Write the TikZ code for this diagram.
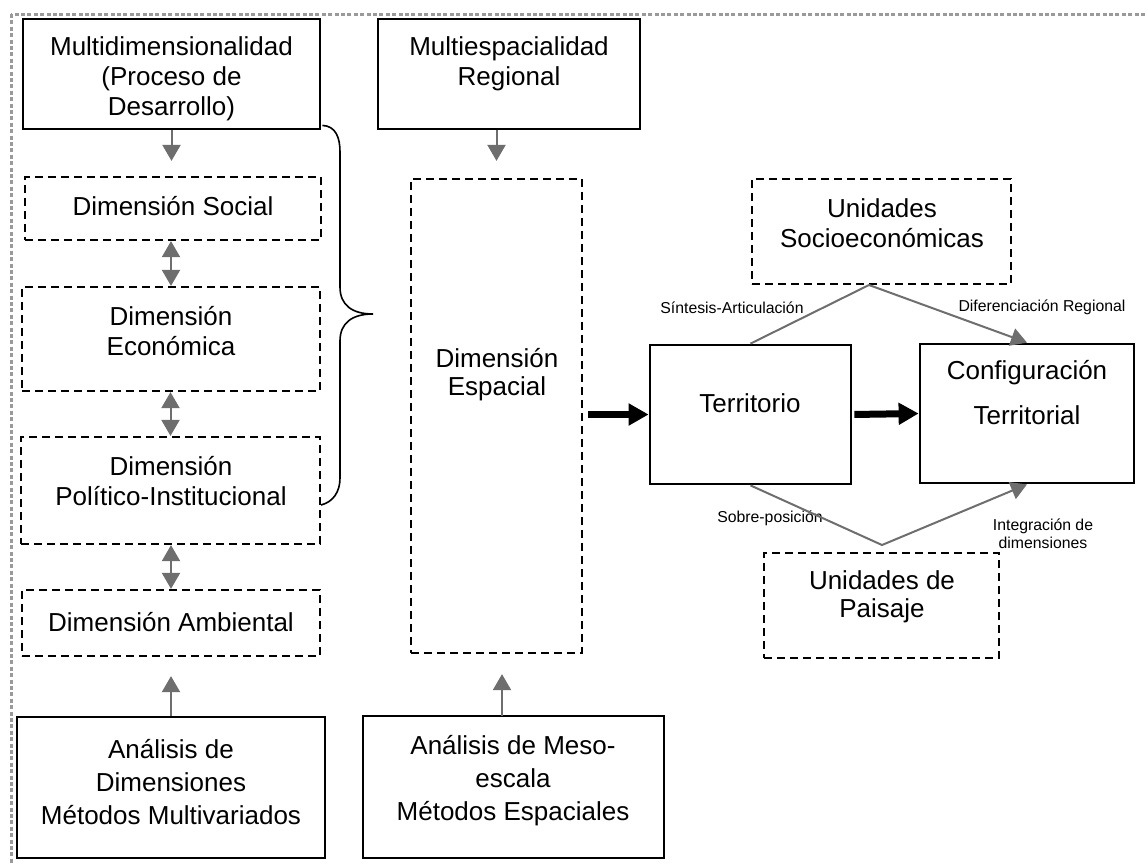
\documentclass[tikz,border=0pt]{standalone}
\usepackage{fontspec}
\setmainfont{Liberation Sans}
\usetikzlibrary{arrows.meta,fit}
\definecolor{arrowgray}{HTML}{6E6E6E}
\definecolor{framegray}{HTML}{9A9A9A}
\begin{document}
\begin{tikzpicture}[x=0.5pt,y=-0.5pt,
  solidbox/.style={draw=black,line width=1.4pt,inner sep=0pt},
  dashbox/.style={draw=black,line width=1.1pt,dash pattern=on 4pt off 2.5pt,inner sep=0pt},
  boxtext/.style={font=\fontsize{13}{15}\selectfont,align=center,inner sep=0pt},
  smalltext/.style={font=\fontsize{7.9}{9}\selectfont,align=center,inner sep=0pt},
  garrow/.style={draw=arrowgray,line width=1pt,-{Triangle[length=8pt,width=9pt]}},
  gdouble/.style={draw=arrowgray,line width=1pt,{Triangle[length=8pt,width=9pt]}-{Triangle[length=8pt,width=9pt]}},
  bigarrow/.style={draw=black,line width=3.5pt,-{Triangle[length=10pt,width=10.5pt]}},
  bracepath/.style={draw=black,line width=0.8pt},
  frame/.style={draw=framegray,line width=1.5pt,dash pattern=on 2pt off 1.2pt}
]
\useasboundingbox (0,0) rectangle (1146,863);
\clip (0,0) rectangle (1146,863);
\draw[frame] (11,14) rectangle (1180,900);

% left column
\node[solidbox,fit={(23,19)(320,129)}] (A) {};
\node[boxtext] (At) at (171.5,79) {Multidimensionalidad\\(Proceso de\\Desarrollo)};
\node[dashbox,fit={(25,177)(321,240)}] (Soc) {};
\node[boxtext] (Soct) at (173,206) {Dimensión Social};
\node[dashbox,fit={(22,287)(320,391)}] (Eco) {};
\node[boxtext] (Ecot) at (171,331) {Dimensión\\Económica};
\node[dashbox,fit={(21,437)(320,544)}] (Pol) {};
\node[boxtext] (Polt) at (171,481) {Dimensión\\Político-Institucional};
\node[dashbox,fit={(22,590)(320,656)}] (Amb) {};
\node[boxtext] (Ambt) at (171,622) {Dimensión Ambiental};
\node[solidbox,fit={(17,717)(325,858)}] (An) {};
\node[boxtext,font=\fontsize{13}{16.5}\selectfont] (Ant) at (171,782) {Análisis de\\Dimensiones\\Métodos Multivariados};

% middle column
\node[solidbox,fit={(378,19)(640,129)}] (M) {};
\node[boxtext] (Mt) at (509,64) {Multiespacialidad\\Regional};
\node[dashbox,fit={(411,179)(582,653)}] (E) {};
\node[boxtext,font=\fontsize{13}{14}\selectfont] (Et) at (497,375) {Dimensión\\Espacial};
\node[solidbox,fit={(363,716)(664,858)}] (Me) {};
\node[boxtext,font=\fontsize{13}{16.5}\selectfont] (Met) at (513,781) {Análisis de Meso-\\escala\\Métodos Espaciales};

% right part
\node[solidbox,fit={(650,345)(851,484)}] (T) {};
\node[boxtext] (Tt) at (750,403) {Territorio};
\node[solidbox,fit={(920,344)(1134,483)}] (C) {};
\node[boxtext,font=\fontsize{13}{22.5}\selectfont] (Ct) at (1027,393) {Configuración\\Territorial};
\node[dashbox,fit={(752,179)(1011,284)}] (S) {};
\node[boxtext] (St) at (882,223) {Unidades\\Socioeconómicas};
\node[dashbox,fit={(764,553)(999,658)}] (P) {};
\node[boxtext,font=\fontsize{13}{14}\selectfont] (Pt) at (882,597) {Unidades de\\Paisaje};

% labels
\node[smalltext] (l1) at (732,308) {Síntesis-Articulación};
\node[smalltext] (l2) at (1042,307) {Diferenciación Regional};
\node[smalltext] (l3) at (770,518) {Sobre-posición};
\node[smalltext] (l4) at (1043,534) {Integración de\\dimensiones};

% brace
\draw[bracepath] (A.south east) ++(1,-5) .. controls (336,126) and (340,138) .. (340,152)
  -- (340,287) .. controls (340,305) and (352,314) .. (373,314)
  .. controls (352,314) and (340,323) .. (340,341)
  -- (340,478) .. controls (340,492) and (333,502) .. (321,505);

% gray connectors
\draw[garrow,shorten >=7.5pt] (A.south) -- (A.south |- Soc.north);
\draw[garrow,shorten >=8.5pt] (E.north |- M.south) -- (E.north);
\draw[gdouble] (Eco.north |- Soc.south) -- (Eco.north);
\draw[gdouble] (Pol.north |- Eco.south) -- (Pol.north);
\draw[gdouble] (Amb.north |- Pol.south) -- (Amb.north);
\draw[garrow,shorten >=9.5pt] (An.north) -- (An.north |- Amb.south);
\coordinate (mesoTop) at (502,716);
\draw[garrow,shorten >=10pt] (mesoTop) -- (mesoTop |- E.south);

\coordinate (up) at (869,285);
\coordinate (lo) at (882,545);
\draw[garrow] (T.north) -- (up) -- (C.north);
\draw[garrow] (T.south) -- (lo) -- (C.south);

% thick arrows
\draw[bigarrow,shorten <=2.5pt] (E.east |- T.west) -- (T.west);
\draw[bigarrow,shorten <=1pt] (T.east) -- (C.west);
\end{tikzpicture}
\end{document}
